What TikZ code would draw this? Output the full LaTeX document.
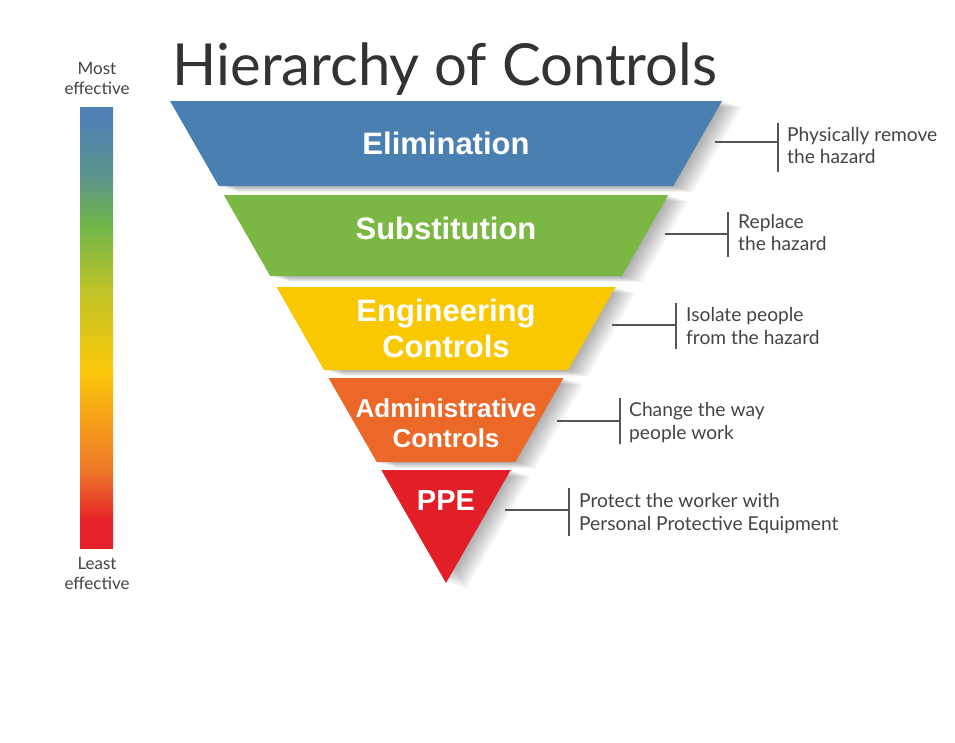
\documentclass[tikz,border=0pt]{standalone}
\usepackage{fontspec}
\setmainfont{Lato}
\newfontfamily\bandfont{Liberation Sans}
\definecolor{elimc}{RGB}{74,128,177}
\definecolor{subc}{RGB}{122,184,67}
\definecolor{engc}{RGB}{249,200,0}
\definecolor{admc}{RGB}{236,104,40}
\definecolor{ppec}{RGB}{226,30,38}
\definecolor{txtg}{RGB}{68,68,68}
\definecolor{lineg}{RGB}{85,85,85}
\definecolor{barblue}{RGB}{76,129,178}
\definecolor{barteal}{RGB}{92,150,140}
\definecolor{bargreen}{RGB}{111,182,72}
\definecolor{baryg}{RGB}{190,195,40}
\definecolor{baryellow}{RGB}{250,200,10}
\definecolor{barorange}{RGB}{240,120,40}
\definecolor{barred}{RGB}{228,35,40}
\pgfdeclareverticalshading{effbar}{100bp}{color(0bp)=(barred); color(28.2bp)=(barred); color(33.8bp)=(barorange); color(45.2bp)=(baryellow); color(54.3bp)=(baryg); color(61.6bp)=(bargreen); color(67bp)=(barteal); color(73.5bp)=(barblue); color(100bp)=(barblue)}
\newcommand\hocband[2]{%
  \foreach \s in {1,...,12}{\fill[black, opacity=0.028, xshift=1.7*\s pt, yshift=-0.5*\s pt] #1;}%
  \fill[#2] #1;}
\tikzset{
  bandtext/.style={text=white, font=\bandfont\bfseries\fontsize{31}{36}\selectfont, align=center, inner sep=0pt},
  sidetext/.style={text=txtg, font=\fontsize{19.2}{22}\selectfont, anchor=base west, inner sep=0pt},
  leader/.style={draw=lineg, line width=1.2pt},
  efftext/.style={text=txtg, font=\fontsize{17}{20}\selectfont, anchor=base, inner sep=0pt}
}
\begin{document}
\begin{tikzpicture}[x=1pt,y=-1pt]
\useasboundingbox[fill=white] (0,0) rectangle (955,742);
% title
\node[anchor=base, inner sep=0pt, text=black!80, font=\fontsize{58}{60}\selectfont] (title) at (445,85) {Hierarchy of Controls};
% effectiveness bar
\node[efftext] (most1) at (97,74) {Most};
\node[efftext] (most2) at (97,94) {effective};
\path[shading=effbar] (80,107) rectangle (113,548);
\node[efftext] (least1) at (97,569) {Least};
\node[efftext] (least2) at (97,589) {effective};
% bands
\hocband{(170,101) -- (722,101) -- (673.3,186) -- (218.7,186) -- cycle}{elimc}
\hocband{(223.8,195) -- (668.2,195) -- (621.8,276) -- (270.2,276) -- cycle}{subc}
\hocband{(276.5,287) -- (615.5,287) -- (568,370) -- (324,370) -- cycle}{engc}
\hocband{(328.6,378) -- (563.4,378) -- (515.3,462) -- (376.7,462) -- cycle}{admc}
\hocband{(381.3,470) -- (510.7,470) -- (446,583) -- cycle}{ppec}
\node[bandtext] (elim) at (446,143) {Elimination};
\node[bandtext] (subst) at (446,228) {Substitution};
\node[bandtext] (eng) at (446,328) {Engineering\\Controls};
\node[bandtext, font=\bandfont\bfseries\fontsize{26}{30}\selectfont] (adm) at (446,423) {Administrative\\Controls};
\node[bandtext, font=\bandfont\bfseries\fontsize{29}{34}\selectfont] (ppe) at (446,501) {PPE};
% leaders and descriptions
\coordinate (l1a) at (715,142); \coordinate (l1b) at (778,142);
\coordinate (v1a) at (778,123); \coordinate (v1b) at (778,172);
\draw[leader] (l1a) -- (l1b); \draw[leader] (v1a) -- (v1b);
\node[sidetext] (d1a) at (787,141) {Physically remove};
\node[sidetext] (d1b) at (787,163) {the hazard};

\coordinate (l2a) at (665,234); \coordinate (l2b) at (728,234);
\coordinate (v2a) at (728,212); \coordinate (v2b) at (728,257);
\draw[leader] (l2a) -- (l2b); \draw[leader] (v2a) -- (v2b);
\node[sidetext] (d2a) at (738,228) {Replace};
\node[sidetext] (d2b) at (738,250) {the hazard};

\coordinate (l3a) at (612,325); \coordinate (l3b) at (676,325);
\coordinate (v3a) at (676,303); \coordinate (v3b) at (676,349);
\draw[leader] (l3a) -- (l3b); \draw[leader] (v3a) -- (v3b);
\node[sidetext] (d3a) at (686,321) {Isolate people};
\node[sidetext] (d3b) at (686,344) {from the hazard};

\coordinate (l4a) at (557,421); \coordinate (l4b) at (620,421);
\coordinate (v4a) at (620,398); \coordinate (v4b) at (620,444);
\draw[leader] (l4a) -- (l4b); \draw[leader] (v4a) -- (v4b);
\node[sidetext] (d4a) at (629,416) {Change the way};
\node[sidetext] (d4b) at (629,439) {people work};

\coordinate (l5a) at (505,510); \coordinate (l5b) at (569,510);
\coordinate (v5a) at (569,488); \coordinate (v5b) at (569,536);
\draw[leader] (l5a) -- (l5b); \draw[leader] (v5a) -- (v5b);
\node[sidetext] (d5a) at (579,507) {Protect the worker with};
\node[sidetext] (d5b) at (579,530) {Personal Protective Equipment};
\end{tikzpicture}
\end{document}
